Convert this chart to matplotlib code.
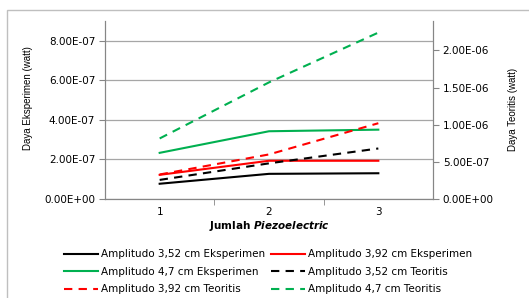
import matplotlib.pyplot as plt
from matplotlib.patches import Rectangle

plt.rcParams['font.family'] = 'DejaVu Sans'
plt.rcParams['mathtext.fontset'] = 'custom'
plt.rcParams['mathtext.it'] = 'DejaVu Sans:italic:bold'

# jumlah piezoelectric
jumlah = [1, 2, 3]

# daya eksperimen (sumbu kiri)
eksp_352 = [0.77e-7, 1.27e-7, 1.30e-7]
eksp_392 = [1.22e-7, 1.93e-7, 1.93e-7]
eksp_47 = [2.33e-7, 3.42e-7, 3.50e-7]

# daya teoritis (sumbu kanan)
teo_352 = [2.57e-7, 4.8e-7, 6.8e-7]
teo_392 = [3.3e-7, 6.0e-7, 1.02e-6]
teo_47 = [0.815e-6, 1.57e-6, 2.24e-6]

left_ticks = [0, 2e-7, 4e-7, 6e-7, 8e-7]
right_ticks = [0, 5e-7, 1e-6, 1.5e-6, 2e-6]

hitam = '#000000'
merah = '#ff0000'
hijau = '#00b050'
abu = '#868686'
dash = (4, 3)
fs = 7.5

fig = plt.figure(figsize=(5.29, 2.98), dpi=100)
fig.patches.append(Rectangle((7 / 529, -0.1), 1.2, 1 - 10 / 298 + 0.1,
                             transform=fig.transFigure, fill=False,
                             edgecolor='#bfbfbf', lw=1))

ax = fig.add_axes([105 / 529, 1 - 199 / 298, 328 / 529, 178.3 / 298])
ax2 = ax.twinx()

l1, = ax.plot(jumlah, eksp_352, color=hitam, lw=1.5, label='Amplitudo 3,52 cm Eksperimen')
l2, = ax.plot(jumlah, eksp_392, color=merah, lw=1.5, label='Amplitudo 3,92 cm Eksperimen')
l3, = ax.plot(jumlah, eksp_47, color=hijau, lw=1.5, label='Amplitudo 4,7 cm Eksperimen')
l4, = ax2.plot(jumlah, teo_352, color=hitam, lw=1.5, dashes=dash, label='Amplitudo 3,52 cm Teoritis')
l5, = ax2.plot(jumlah, teo_392, color=merah, lw=1.5, dashes=dash, label='Amplitudo 3,92 cm Teoritis')
l6, = ax2.plot(jumlah, teo_47, color=hijau, lw=1.5, dashes=dash, label='Amplitudo 4,7 cm Teoritis')

ax.set_xlim(0.5, 3.5)
ax.set_ylim(0, 9e-7)
ax2.set_ylim(0, 2.4e-6)

ax.set_yticks(left_ticks)
ax.set_yticklabels(['%.2E' % v for v in left_ticks])
ax2.set_yticks(right_ticks)
ax2.set_yticklabels(['%.2E' % v for v in right_ticks])

ax.set_xticks(jumlah)
ax.set_xticks([1.5, 2.5], minor=True)
ax.tick_params(axis='x', which='major', length=0, pad=6, labelsize=fs)
ax.tick_params(axis='x', which='minor', length=4, color=abu)
ax.tick_params(axis='y', length=4, color=abu, labelsize=fs, pad=3)
ax2.tick_params(axis='y', length=4, color=abu, labelsize=fs, pad=3)

ax.grid(axis='y', color='#a6a6a6', lw=0.9)
ax.set_axisbelow(True)

for a in (ax, ax2):
    a.spines['top'].set_visible(False)
    for s in ('left', 'right', 'bottom'):
        a.spines[s].set_color(abu)

ax.set_ylabel('Daya Eksperimen (watt)', fontsize=7, family='Liberation Sans')
ax.yaxis.set_label_coords(-0.22, 0.566)
ax2.set_ylabel('Daya Teoritis (watt)', fontsize=7, family='Liberation Sans')
ax2.yaxis.set_label_coords(1.229, 0.505)
ax.set_xlabel('Jumlah $\\it{Piezoelectric}$', fontsize=fs, fontweight='bold', labelpad=1)

handles = [l1, l3, l5, l2, l4, l6]
fig.legend(handles, [h.get_label() for h in handles], ncol=2,
           loc='upper center', bbox_to_anchor=(268 / 529, 1 - 242 / 298),
           frameon=False, fontsize=fs, handlelength=3.3, handletextpad=0.3,
           columnspacing=0.5, labelspacing=0.72, borderpad=0.2)

fig.savefig('out.png', dpi=100)
